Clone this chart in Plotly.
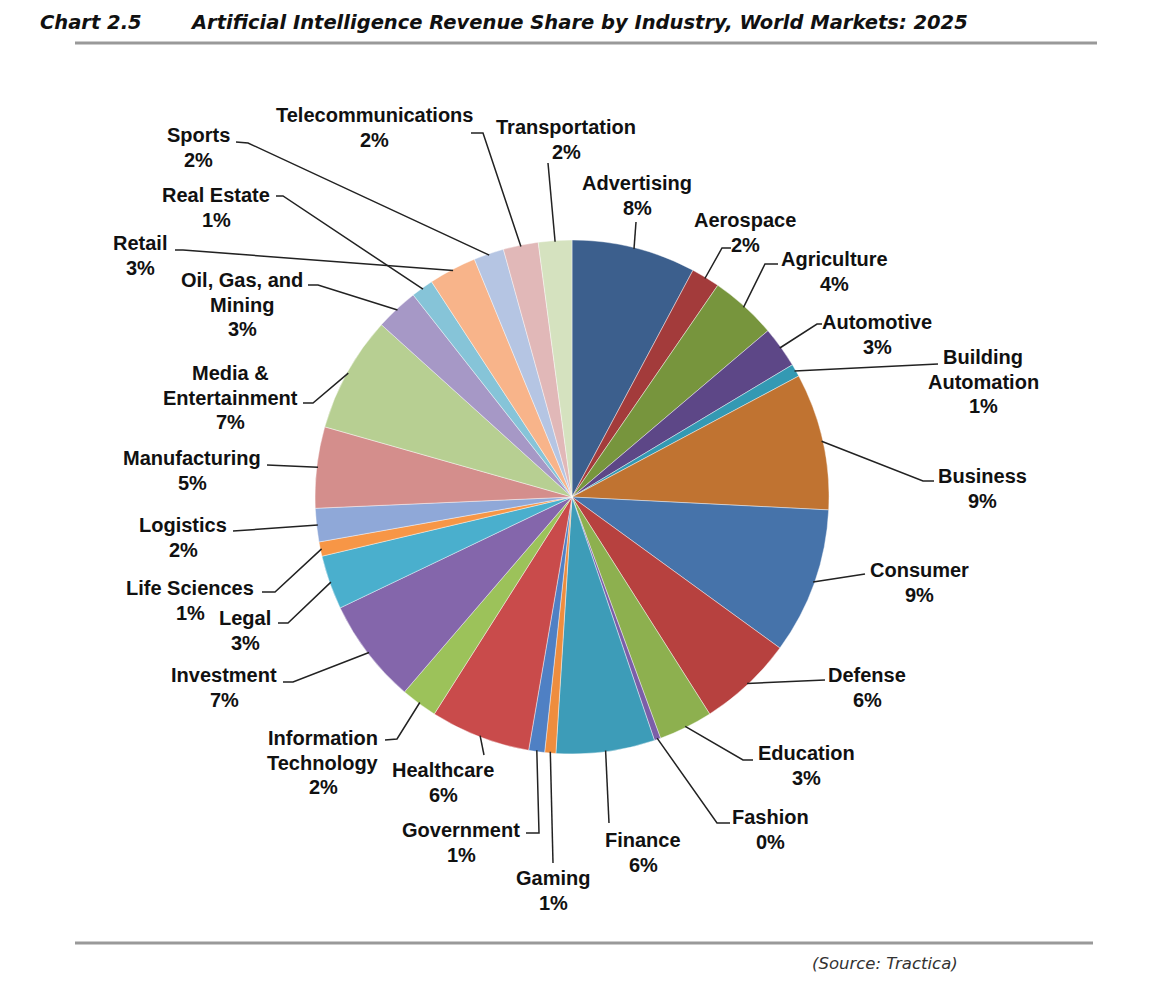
import math
import plotly.graph_objects as go

# page is 1170x983; the browser puts an 8px margin round the figure
PAGE_W, PAGE_H, PAD = 1170, 983, 8
W, H = PAGE_W - 2 * PAD, PAGE_H - 2 * PAD

# ---- data ----
industries = [
    "Advertising", "Aerospace", "Agriculture", "Automotive", "Building<br>Automation",
    "Business", "Consumer", "Defense", "Education", "Fashion", "Finance", "Gaming",
    "Government", "Healthcare", "Information<br>Technology", "Investment", "Legal",
    "Life Sciences", "Logistics", "Manufacturing", "Media &<br>Entertainment",
    "Oil, Gas, and<br>Mining", "Real Estate", "Retail", "Sports", "Telecommunications",
    "Transportation",
]
shares = [
    7.8, 1.8, 4.2, 2.6, 0.8,
    8.6, 9.2, 6.0, 3.4, 0.4, 6.2, 0.7,
    1.0, 6.3, 2.3, 6.6, 3.4,
    0.9, 2.1, 5.1, 7.3,
    2.7, 1.4, 3.0, 1.9, 2.2,
    2.1,
]
colors = [
    "#3c5f8d", "#a33b3b", "#77953d", "#5d4787", "#3399b3",
    "#c07331", "#4673aa", "#b7413f", "#8db04f", "#7b5ea8", "#3d9cb8", "#ee8d3e",
    "#4f80c4", "#c94b4b", "#9cc25a", "#8466ab", "#4aafcd",
    "#f79646", "#8fa8d8", "#d48e8c", "#b7cf92",
    "#a698c6", "#86c4d8", "#f8b48a", "#b5c5e3", "#e1b8b8",
    "#d5e2bf",
]

# ---- layout of the pie and its labels (page pixels) ----
CX, CY, R = 572, 497, 257
LINE_GAP = 24.5
# label: (text centre x, first-line centre y, knee x, knee y, tail x, tail y)
label_layout = [
    (637, 183, 636, 222, 636, 222),   # Advertising
    (745, 220, 722, 248, 731, 248),   # Aerospace
    (834, 259, 765, 264, 778, 264),   # Agriculture
    (877, 322, 817, 324, 822, 324),   # Automotive
    (983, 357, 938, 364, 938, 364),   # Building Automation
    (982, 476, 923, 481, 934, 481),   # Business
    (919, 570, 865, 574, 865, 574),   # Consumer
    (867, 675, 825, 680, 825, 680),   # Defense
    (806, 753, 743, 760, 753, 760),   # Education
    (770, 817, 717, 823, 730, 823),   # Fashion
    (643, 840, 609, 823, 609, 823),   # Finance
    (553, 878, 553, 863, 553, 863),   # Gaming
    (461, 830, 539, 833, 526, 833),   # Government
    (443, 770, 484, 755, 484, 755),   # Healthcare
    (323, 738, 397, 739, 385, 740),   # Information Technology
    (224, 675, 293, 682, 283, 682),   # Investment
    (245, 618, 288, 623, 278, 623),   # Legal
    (190, 588, 275, 592, 262, 592),   # Life Sciences
    (183, 525, 233, 531, 233, 531),   # Logistics
    (192, 458, 267, 465, 267, 465),   # Manufacturing
    (230, 373, 313, 403, 303, 403),   # Media & Entertainment
    (242, 280, 318, 285, 308, 285),   # Oil, Gas, and Mining
    (216, 195, 283, 196, 276, 196),   # Real Estate
    (140, 243, 183, 250, 175, 250),   # Retail
    (198, 135, 248, 143, 236, 142),   # Sports
    (374, 115, 483, 133, 471, 133),   # Telecommunications
    (566, 127, 548, 163, 548, 163),   # Transportation
]

total = sum(shares)
pcts = [round(100 * v / total) for v in shares]

fig = go.Figure()
fig.add_trace(go.Pie(
    labels=[s.replace("<br>", " ") for s in industries],
    values=shares,
    sort=False,
    direction="clockwise",
    rotation=0,
    textinfo="none",
    hovertemplate="%{label}: %{percent}<extra></extra>",
    marker=dict(colors=colors, line=dict(color="rgba(255,255,255,0.7)", width=0.6)),
    domain=dict(x=[(CX - PAD - R) / W, (CX - PAD + R) / W],
                y=[(PAD + H - CY - R) / H, (PAD + H - CY + R) / H]),
    showlegend=False,
))

LAB_FONT = "Liberation Sans, Arial, sans-serif"
TITLE_FONT = "DejaVu Sans, Liberation Sans, Arial, sans-serif"
shapes = []
annotations = []
cum = 0.0
font_lab = dict(family=LAB_FONT, size=20, color="#111111")
for name, v, p, lay in zip(industries, shares, pcts, label_layout):
    theta = 2 * math.pi * (cum + v / 2) / total
    cum += v
    rx = CX + R * 0.995 * math.sin(theta)
    ry = CY - R * 0.995 * math.cos(theta)
    tx, ty, kx, ky, ex, ey = lay
    shapes.append(dict(
        type="path", xref="x", yref="y",
        path=f"M {rx:.1f} {ry:.1f} L {kx} {ky} L {ex} {ey}",
        line=dict(color="#222222", width=1.5),
    ))
    lines = name.split("<br>") + [f"{p}%"]
    for i, ln in enumerate(lines):
        annotations.append(dict(
            x=tx, y=ty + i * LINE_GAP, xref="x", yref="y", xanchor="center", yanchor="middle",
            text=f"<b>{ln}</b>", showarrow=False, font=font_lab,
        ))

# title and rules
annotations.append(dict(
    x=38, y=22, xref="x", yref="y", xanchor="left", yanchor="middle", showarrow=False,
    text="<b><i>Chart 2.5</i></b>",
    font=dict(family=TITLE_FONT, size=19.5, color="#111111"),
))
annotations.append(dict(
    x=188, y=22, xref="x", yref="y", xanchor="left", yanchor="middle", showarrow=False,
    text="<b><i>Artificial Intelligence Revenue Share by Industry, World Markets: 2025</i></b>",
    font=dict(family=TITLE_FONT, size=19.5, color="#111111"),
))
annotations.append(dict(
    x=960, y=963, xref="x", yref="y", xanchor="right", yanchor="middle", showarrow=False,
    text="<i>(Source: Tractica)</i>",
    font=dict(family=TITLE_FONT, size=16.5, color="#333333"),
))
shapes.append(dict(type="line", xref="x", yref="y", x0=75, x1=1097, y0=43, y1=43,
                   line=dict(color="#999999", width=3)))
shapes.append(dict(type="line", xref="x", yref="y", x0=75, x1=1093, y0=943, y1=943,
                   line=dict(color="#999999", width=3)))

fig.update_layout(
    width=W, height=H,
    margin=dict(l=0, r=0, t=0, b=0),
    paper_bgcolor="white", plot_bgcolor="rgba(0,0,0,0)",
    xaxis=dict(range=[PAD, PAD + W], visible=False, fixedrange=True),
    yaxis=dict(range=[PAD + H, PAD], visible=False, fixedrange=True),
    shapes=shapes, annotations=annotations,
)

fig.write_html("out.html")
